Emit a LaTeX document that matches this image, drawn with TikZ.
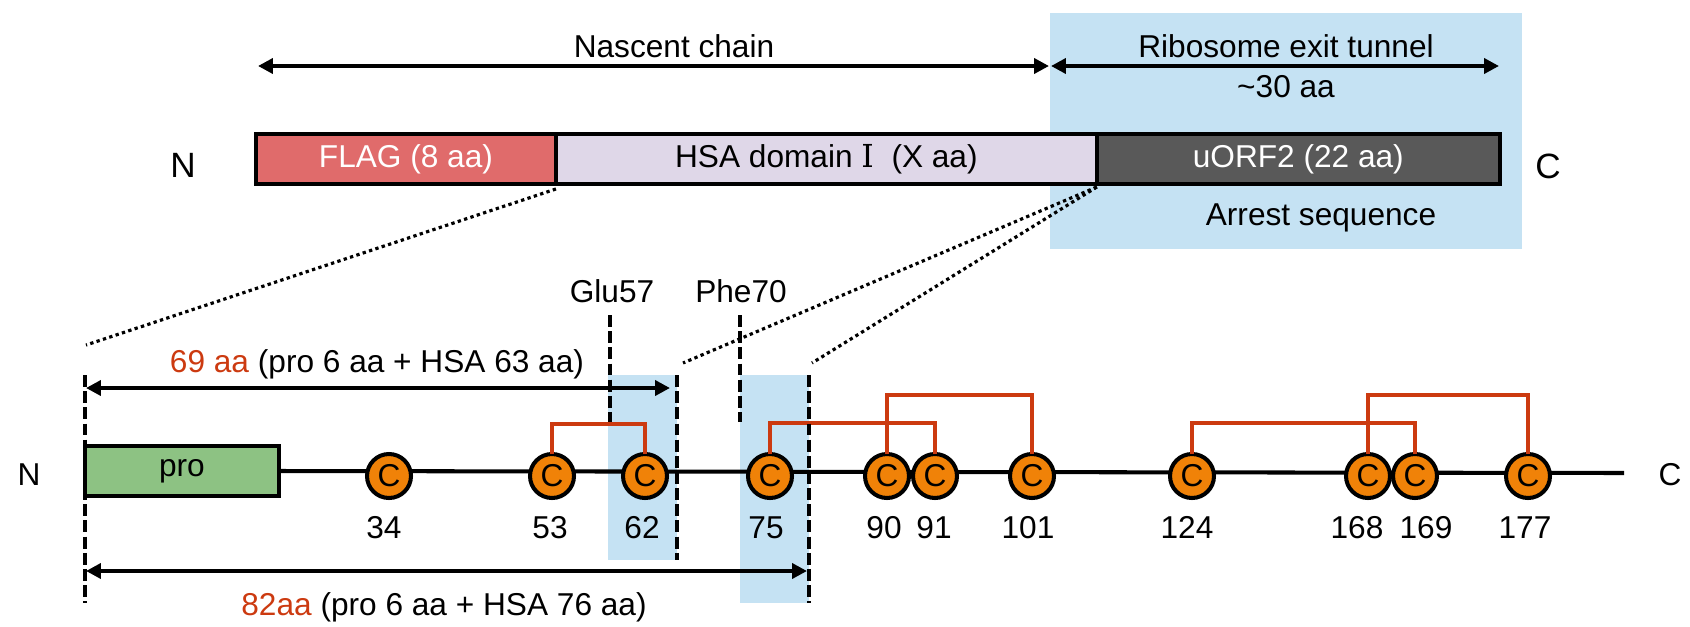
\documentclass[tikz,border=0pt]{standalone}
\usepackage{fontspec}
\setmainfont{Liberation Sans}
\newfontfamily\romfont{DejaVu Serif}
\usetikzlibrary{arrows.meta,positioning}
\definecolor{tunnelblue}{HTML}{C5E2F3}
\definecolor{flagred}{HTML}{E06B6B}
\definecolor{hsalilac}{HTML}{DFD7E8}
\definecolor{uorfgray}{HTML}{595959}
\definecolor{progreen}{HTML}{8DC283}
\definecolor{cysorange}{HTML}{F08208}
\definecolor{bondred}{HTML}{CC3A10}

\begin{document}
\begin{tikzpicture}[x=0.02cm,y=-0.02cm,
  every node/.style={inner sep=0pt, outer sep=0pt, font=\fontsize{18}{22}\selectfont},
  seg/.style={draw=black, line width=2.4pt, minimum height=1cm, anchor=west},
  cys/.style={circle, draw=black, line width=2.3pt, fill=cysorange, minimum size=0.88cm, font=\fontsize{18}{22}\selectfont},
  bond/.style={draw=bondred, line width=2.2pt},
  span/.style={{Triangle[length=8.5pt,width=8.5pt]}-{Triangle[length=8.5pt,width=8.5pt]}, line width=2.2pt},
  guide/.style={dash pattern=on 6.8pt off 2.4pt, line width=2.2pt},
  zoomline/.style={dash pattern=on 1.9pt off 1.9pt, line width=1.8pt}]
\useasboundingbox (0,0) rectangle (1690,626);

% exit tunnel and the two marked windows
\fill[tunnelblue] (1050,13) rectangle (1522,249);
\fill[tunnelblue] (608,375) rectangle (677,560);
\fill[tunnelblue] (740,375) rectangle (809,603);

% top: construct
\coordinate (ncl) at (258,66);
\coordinate (ncr) at (1049,66);
\coordinate (rtl) at (1051,66);
\coordinate (rtr) at (1499,66);
\draw[span] (ncl) -- (ncr);
\draw[span] (rtl) -- (rtr);
\node[anchor=base] (nascent) at (674,57) {Nascent chain};
\node[anchor=base] (tunnel) at (1286,57) {Ribosome exit tunnel};
\node[anchor=base] (tunnelaa) at (1286,97) {\textasciitilde 30 aa};

\node[seg, fill=flagred, minimum width=6cm, text=white] (flag) at (256,159) {FLAG (8 aa)};
\node[seg, fill=hsalilac, minimum width=10.82cm, right=0pt of flag] (hsa) {HSA domain {\romfont Ⅰ}\ \ (X aa)};
\node[seg, fill=uorfgray, minimum width=8.06cm, text=white, right=0pt of hsa] (uorf) {uORF2 (22 aa)};
\node[font=\fontsize{20}{24}\selectfont] (topn) at (183,165) {N};
\node[font=\fontsize{20}{24}\selectfont] (topc) at (1548,166) {C};
\node[anchor=base] (arrest) at (1321,225) {Arrest sequence};

% zoom lines
\coordinate (za) at (86,345);
\coordinate (zb) at (683,363);
\coordinate (zc) at (812,363);
\draw[zoomline] ([yshift=-0.1cm]hsa.south west) -- (za);
\draw[zoomline] ([yshift=-0.06cm]uorf.south west) -- (zb);
\draw[zoomline] ([yshift=-0.06cm]uorf.south west) -- (zc);

% bottom: chain with cysteines
\coordinate (chainend) at (1624,473);
\node[seg, fill=progreen, minimum width=3.88cm, line width=2.3pt] (pro) at (85,471) {pro};
\draw[line width=2.3pt] (pro.east) -- (chainend);
\node (botn) at (29,475) {N};
\node (botc) at (1670,475) {C};

\foreach \x/\n in {389/34, 552/53, 645/62, 770/75, 887/90, 935/91, 1032/101, 1192/124, 1368/168, 1415/169, 1528/177}
  \node[cys] (c\n) at (\x,476) {C};
\foreach \x/\n in {384/34, 550/53, 642/62, 766/75, 884/90, 934/91, 1028/101, 1187/124, 1357/168, 1426/169, 1525/177}
  \node[anchor=base] (n\n) at (\x,538) {\n};

% disulfide bonds
\draw[bond] (c53.north) -- ++(0,-30) -| (c62.north);
\draw[bond] (c75.north) -- ++(0,-31) -| (c91.north);
\draw[bond] (c90.north) -- ++(0,-59) -| (c101.north);
\draw[bond] (c124.north) -- ++(0,-31) -| (c169.north);
\draw[bond] (c168.north) -- ++(0,-59) -| (c177.north);

% guides
\coordinate (g0t) at (85,375);
\coordinate (g0b) at (85,603);
\coordinate (g62t) at (677,375);
\coordinate (g62b) at (677,560);
\coordinate (glut) at (610,315);
\coordinate (glub) at (610,422);
\coordinate (phet) at (740,315);
\coordinate (pheb) at (740,422);
\coordinate (g75t) at (809,375);
\coordinate (g75b) at (809,603);
\draw[guide] (g0t) -- (g0b);
\draw[guide] (g62t) -- (g62b);
\draw[guide] (glut) -- (glub);
\draw[guide] (phet) -- (pheb);
\draw[guide] (g75t) -- (g75b);
\node[anchor=base] (glu) at (612,302) {Glu57};
\node[anchor=base] (phe) at (741,302) {Phe70};

% lengths
\coordinate (s69l) at (86,388);
\coordinate (s69r) at (670,388);
\coordinate (s82l) at (86,571);
\coordinate (s82r) at (807,571);
\draw[span] (s69l) -- (s69r);
\draw[span] (s82l) -- (s82r);
\node[anchor=base] (l69) at (377,372) {\textcolor{bondred}{69 aa} (pro 6 aa + HSA 63 aa)};
\node[anchor=base] (l82) at (444,615) {\textcolor{bondred}{82aa} (pro 6 aa + HSA 76 aa)};
\end{tikzpicture}
\end{document}
